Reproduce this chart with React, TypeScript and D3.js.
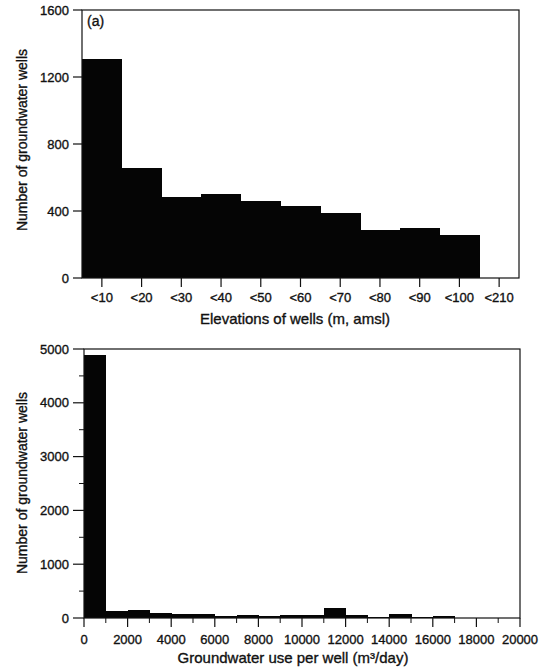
import React from "react";
import * as d3 from "d3";

// panel (a): wells per elevation class
const elevClasses = ["<10", "<20", "<30", "<40", "<50", "<60", "<70", "<80", "<90", "<100", "<210"];
const elevCounts = [1305, 655, 482, 500, 458, 428, 386, 288, 300, 255, 0];
const elevTicks = [0, 400, 800, 1200, 1600];

// panel (b): wells per groundwater use bin (1000 m3/day wide)
const useBinWidth = 1000;
const useCounts = [4880, 125, 155, 93, 75, 70, 45, 60, 40, 50, 60, 190, 65, 15, 70, 10, 28, 5, 0, 0];
const useTicks = [0, 2000, 4000, 6000, 8000, 10000, 12000, 14000, 16000, 18000, 20000];
const useCountTicks = [0, 1000, 2000, 3000, 4000, 5000];

const FONT = "'Liberation Sans', Arial, Helvetica, sans-serif";
// scanned print looks heavier than plain regular weight
const ink = { stroke: "#111", strokeWidth: 0.35 };

const App = () => {
  // ---- top panel
  const xa = d3.scaleBand<string>().domain(elevClasses).range([82, 519]).padding(0);
  const ya = d3.scaleLinear().domain([0, 1600]).range([278, 10]);

  // ---- bottom panel
  const xb = d3.scaleLinear().domain([0, 20000]).range([84, 520]);
  const yb = d3.scaleLinear().domain([0, 5000]).range([618, 349]);
  const minorX = d3.range(1000, 20000, 2000);
  const minorY = d3.range(500, 5000, 1000);

  return (
    <svg
      width={548}
      height={669}
      style={{ position: "absolute", left: 0, top: 0, background: "#fff" }}
      fontFamily={FONT}
      fill="#111"
    >
      {/* ===== (a) elevations ===== */}
      <g shapeRendering="crispEdges">
        {elevClasses.map((c, i) => (
          <rect
            key={c}
            x={xa(c)}
            y={ya(elevCounts[i])}
            width={xa.bandwidth() + 0.5}
            height={ya(0) - ya(elevCounts[i])}
            fill="#050505"
          />
        ))}
      </g>
      <g>
        <rect x={82} y={10} width={437} height={268} fill="none" stroke="#111" strokeWidth={1.2} />
        {elevTicks.map((t) => (
          <g key={t}>
            <line x1={73} x2={82} y1={ya(t)} y2={ya(t)} stroke="#111" strokeWidth={1.2} />
            <text x={69} y={ya(t)} dy="0.35em" textAnchor="end" fontSize={13} {...ink}>
              {t}
            </text>
          </g>
        ))}
        {elevClasses.map((c) => {
          const cx = (xa(c) as number) + xa.bandwidth() / 2;
          return (
            <g key={c}>
              <line x1={cx} x2={cx} y1={278} y2={287} stroke="#111" strokeWidth={1.2} />
              <text x={cx} y={302} textAnchor="middle" fontSize={13} {...ink}>
                {c}
              </text>
            </g>
          );
        })}
        <text x={87} y={26} fontSize={14} {...ink}>
          (a)
        </text>
        <text x={295} y={324} textAnchor="middle" fontSize={15} {...ink}>
          Elevations of wells (m, amsl)
        </text>
        <text transform="translate(27,140) rotate(-90)" textAnchor="middle" fontSize={14} {...ink}>
          Number of groundwater wells
        </text>
      </g>

      {/* ===== (b) groundwater use ===== */}
      <g shapeRendering="crispEdges">
        {useCounts.map((v, i) =>
          v > 0 ? (
            <rect
              key={i}
              x={xb(i * useBinWidth)}
              y={yb(v)}
              width={xb(useBinWidth) - xb(0) + 0.5}
              height={yb(0) - yb(v)}
              fill="#050505"
            />
          ) : null
        )}
      </g>
      <g>
        <rect x={84} y={349} width={436} height={269} fill="none" stroke="#111" strokeWidth={1.2} />
        {useCountTicks.map((t) => (
          <g key={t}>
            <line x1={73} x2={84} y1={yb(t)} y2={yb(t)} stroke="#111" strokeWidth={1.2} />
            <text x={69} y={yb(t)} dy="0.35em" textAnchor="end" fontSize={13} {...ink}>
              {t}
            </text>
          </g>
        ))}
        {minorY.map((t) => (
          <line key={t} x1={79} x2={84} y1={yb(t)} y2={yb(t)} stroke="#111" strokeWidth={1} />
        ))}
        {useTicks.map((t) => (
          <g key={t}>
            <line x1={xb(t)} x2={xb(t)} y1={618} y2={627} stroke="#111" strokeWidth={1.2} />
            <text x={xb(t)} y={644} textAnchor="middle" fontSize={13} {...ink}>
              {t}
            </text>
          </g>
        ))}
        {minorX.map((t) => (
          <line key={t} x1={xb(t)} x2={xb(t)} y1={618} y2={623} stroke="#111" strokeWidth={1} />
        ))}
        <text x={293} y={663} textAnchor="middle" fontSize={15} {...ink}>
          Groundwater use per well (m³/day)
        </text>
        <text transform="translate(27,483) rotate(-90)" textAnchor="middle" fontSize={14} {...ink}>
          Number of groundwater wells
        </text>
      </g>
    </svg>
  );
};

export default App;
